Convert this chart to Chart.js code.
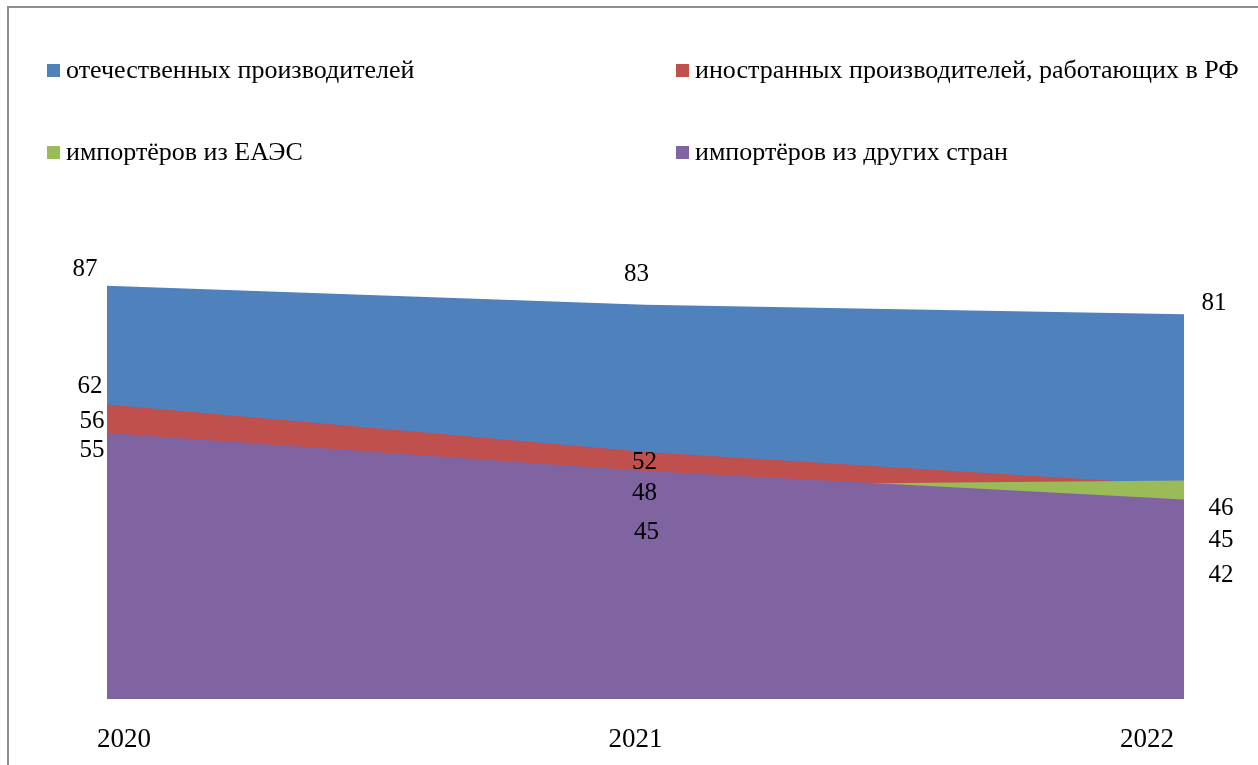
<!DOCTYPE html>
<html lang="ru">
<head>
<meta charset="utf-8">
<title>Доли производителей и импортёров</title>
<script src="https://cdn.jsdelivr.net/npm/chart.js@4.4.0/dist/chart.umd.min.js"></script>
<style>
    html, body { margin: 0; padding: 0; background: #fff; overflow: hidden; }
    #wrap { position: relative; width: 1258px; height: 765px; }
    #frame {
        position: absolute; left: 7px; top: 6px; right: -10px; bottom: -10px;
        border-left: 2px solid #8e8e8e; border-top: 2px solid #8e8e8e;
    }
    canvas { position: absolute; left: 0; top: 0; }
</style>
</head>
<body>
<div id="wrap">
    <div id="frame"></div>
    <canvas id="shareChart" width="1258" height="765"></canvas>
</div>
<script>
const years = ["2020", "2021", "2022"];
const seriesNames = [
    "отечественных производителей",
    "иностранных производителей, работающих в РФ",
    "импортёров из ЕАЭС",
    "импортёров из других стран"
];
const domestic = [87, 83, 81];
const foreignInRF = [62, 52, 45];
const importEAEU = [55, 45, 46];
const importOther = [56, 48, 42];

const seriesColors = ["#4F81BD", "#C0504D", "#9BBB59", "#8064A2"];
const serif = "'Liberation Serif', 'DejaVu Serif', serif";

// label offsets from each point (dx, dy), like the spread-out labels in the original
const labelShift = [
    [[-22, -16], [-9, -30], [30, -11]],
    [[-17, -18], [-1, 10], [37, 55]],
    [[-15, 13], [1, 47], [37, 28]],
    [[-15, -12], [-1, 22], [37, 76]]
];

// legend drawn in two columns, dataset order
const legendPlugin = {
    id: "twoColLegend",
    afterDraw(chart) {
        const ctx = chart.ctx;
        const cols = [47, 676];
        const rows = [78, 160];
        ctx.save();
        ctx.font = "26px " + serif;
        ctx.textBaseline = "alphabetic";
        ctx.textAlign = "left";
        chart.data.datasets.forEach(function (ds, i) {
            const x = cols[i % 2];
            const y = rows[Math.floor(i / 2)];
            ctx.fillStyle = ds.backgroundColor;
            ctx.fillRect(x, y - 14, 13, 13);
            ctx.fillStyle = "#000";
            ctx.fillText(ds.label, x + 19, y);
        });
        ctx.restore();
    }
};

const valueLabels = {
    id: "valueLabels",
    afterDatasetsDraw(chart) {
        const ctx = chart.ctx;
        ctx.save();
        ctx.font = "25px " + serif;
        ctx.fillStyle = "#000";
        ctx.textAlign = "center";
        ctx.textBaseline = "middle";
        chart.data.datasets.forEach(function (ds, i) {
            const meta = chart.getDatasetMeta(i);
            meta.data.forEach(function (pt, j) {
                const s = labelShift[i][j];
                ctx.fillText(String(ds.data[j]), pt.x + s[0], pt.y + s[1]);
            });
        });
        ctx.restore();
    }
};

const allSeries = [domestic, foreignInRF, importEAEU, importOther];

const ctx = document.getElementById("shareChart").getContext("2d");
const shareChart = new Chart(ctx, {
    type: "line",
    data: {
        labels: years,
        datasets: allSeries.map(function (values, i) {
            return {
                label: seriesNames[i],
                data: values,
                backgroundColor: seriesColors[i],
                borderColor: seriesColors[i],
                borderWidth: 0,
                pointRadius: 0,
                tension: 0,
                fill: "origin",
                order: allSeries.length - i
            };
        })
    },
    options: {
        responsive: false,
        animation: false,
        layout: { padding: { top: 224, left: 107, right: 74, bottom: 0 } },
        plugins: {
            legend: { display: false },
            title: { display: false },
            tooltip: { enabled: false }
        },
        scales: {
            x: {
                grid: { display: false, drawTicks: false },
                border: { display: false },
                ticks: {
                    align: "inner",
                    labelOffset: -10,
                    padding: 25,
                    color: "#000",
                    font: { family: serif, size: 27 }
                },
                afterFit(scale) { scale.height = 66; }
            },
            y: {
                display: false,
                min: 0,
                max: 100
            }
        }
    },
    plugins: [legendPlugin, valueLabels]
});
</script>
</body>
</html>
